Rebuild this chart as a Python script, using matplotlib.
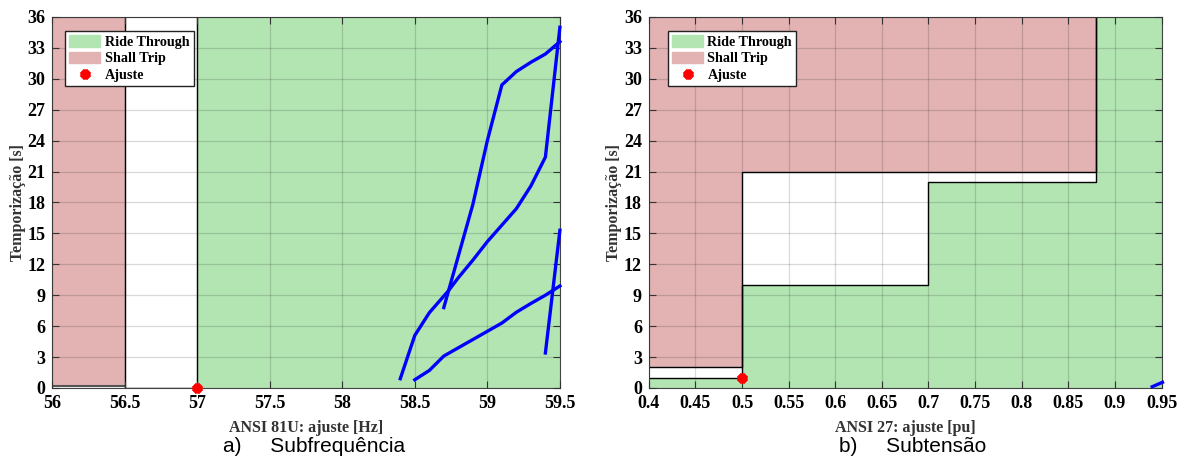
import matplotlib
matplotlib.use('Agg')
import matplotlib.pyplot as plt
import matplotlib.patches as mpatches
from matplotlib.lines import Line2D

# ---- data: (a) underfrequency ----
freq_ticks = [56, 56.5, 57, 57.5, 58, 58.5, 59, 59.5]
time_ticks = list(range(0, 37, 3))

freq_trip_x = [56.0, 56.5]          # shall trip band
freq_trip_y = [0.15, 36]
freq_free_x = [56.5, 57.0]          # white band
freq_ride_x = [57.0, 59.5]          # ride through band
freq_ajuste = (57.0, 0.0)

curve1_x = [58.4, 58.5, 58.6, 58.73, 58.8, 58.9, 59.0, 59.2, 59.3, 59.4, 59.5]
curve1_y = [0.9, 5.1, 7.3, 9.4, 10.7, 12.4, 14.2, 17.4, 19.6, 22.4, 35.0]
curve2_x = [58.7, 58.8, 58.9, 59.0, 59.1, 59.2, 59.3, 59.4, 59.5]
curve2_y = [7.8, 12.8, 17.8, 24.0, 29.4, 30.7, 31.6, 32.4, 33.6]
curve3_x = [58.5, 58.6, 58.7, 58.8, 58.9, 59.0, 59.1, 59.2, 59.3, 59.4, 59.5]
curve3_y = [0.8, 1.7, 3.1, 3.9, 4.7, 5.5, 6.3, 7.35, 8.2, 9.0, 9.9]
curve4_x = [59.4, 59.5]
curve4_y = [3.4, 15.3]

# ---- data: (b) undervoltage ----
volt_ticks = [0.4, 0.45, 0.5, 0.55, 0.6, 0.65, 0.7, 0.75, 0.8, 0.85, 0.9, 0.95]
trip_edge_x = [0.4, 0.5, 0.5, 0.88, 0.88]
trip_edge_y = [2, 2, 21, 21, 36]
ride_edge_x = [0.4, 0.5, 0.5, 0.7, 0.7, 0.88, 0.88, 0.95]
ride_edge_y = [1, 1, 10, 10, 20, 20, 36, 36]
volt_ajuste = (0.5, 1.0)
volt_curve_x = [0.94, 0.951]
volt_curve_y = [0.12, 0.55]

GREEN = '#b3e5b3'
RED = '#e3b3b3'
SERIF = 'Liberation Serif'

fig = plt.figure(figsize=(11.84, 4.57), dpi=100)
ax1 = fig.add_axes([0.0439, 0.151, 0.429, 0.812])
ax2 = fig.add_axes([0.548, 0.151, 0.433, 0.812])


def style_axes(ax, xticks, xlabel, caption, leg_x):
    ax.set_yticks(time_ticks)
    ax.set_xticks(xticks)
    ax.set_xticklabels([f'{t:g}' for t in xticks])
    ax.set_ylim(0, 36)
    ax.set_xlim(xticks[0], xticks[-1])
    ax.grid(True, color='k', alpha=0.15, lw=0.9)
    ax.set_axisbelow(False)
    ax.tick_params(direction='in', top=True, right=True, length=5,
                   width=0.8, labelsize=13, color='#333333', pad=5)
    for lab in ax.get_xticklabels() + ax.get_yticklabels():
        lab.set_fontfamily(SERIF)
        lab.set_fontweight('bold')
    for sp in ax.spines.values():
        sp.set_color('#444444')
    ax.set_xlabel(xlabel, fontfamily=SERIF, fontweight='bold', fontsize=11.5,
                  color='#333333', labelpad=6)
    ax.set_ylabel('Temporização [s]', fontfamily=SERIF, fontweight='bold',
                  fontsize=11.5, color='#333333', labelpad=1)
    bb = ax.get_position()
    fig.text(bb.x0 + 0.515 * bb.width, 0.022, caption, ha='center',
             va='center', fontsize=15, fontfamily='Liberation Sans')
    handles = [mpatches.Patch(color=GREEN, label='Ride Through'),
               mpatches.Patch(color=RED, label='Shall Trip'),
               Line2D([], [], ls='none', marker=(8, 2, 0), color='red',
                      mew=3, ms=7, label='Ajuste')]
    leg = ax.legend(handles=handles, loc='upper left',
                    bbox_to_anchor=(leg_x, 0.962), fancybox=False,
                    framealpha=1, edgecolor='#222222', borderpad=0.3,
                    labelspacing=0.22, handlelength=2.2, handletextpad=0.3,
                    handleheight=0.85, borderaxespad=0,
                    prop={'family': SERIF, 'weight': 'bold', 'size': 10.2})
    leg.get_frame().set_linewidth(1.0)


# (a) underfrequency
ax1.fill_between(freq_trip_x, freq_trip_y[0], freq_trip_y[1], color=RED, lw=0)
ax1.fill_between(freq_ride_x, 0, 36, color=GREEN, lw=0)
ax1.plot(freq_trip_x, [freq_trip_y[0]] * 2, color='#555555', lw=1.5)
ax1.plot([freq_free_x[0], freq_free_x[0], freq_free_x[1], freq_free_x[1]],
         [36, 0, 0, 36], color='k', lw=1.0)
for cx, cy in [(curve1_x, curve1_y), (curve2_x, curve2_y),
               (curve3_x, curve3_y), (curve4_x, curve4_y)]:
    ax1.plot(cx, cy, color='#0000ff', lw=2.4, clip_on=False, zorder=4)
ax1.plot(*freq_ajuste, ls='none', marker=(8, 2, 0), color='red', mew=3,
         ms=7, clip_on=False, zorder=5)
style_axes(ax1, freq_ticks, 'ANSI 81U: ajuste [Hz]', 'a)     Subfrequência',
           0.0256)

# (b) undervoltage
ax2.fill_between(trip_edge_x, trip_edge_y, 36, color=RED, lw=0)
ax2.fill_between(ride_edge_x, 0, ride_edge_y, color=GREEN, lw=0)
ax2.plot(trip_edge_x, trip_edge_y, color='k', lw=1.0)
ax2.plot(ride_edge_x[:-1], ride_edge_y[:-1], color='k', lw=1.0)
ax2.plot(volt_curve_x, volt_curve_y, color='#0000ff', lw=2.4, clip_on=False,
         zorder=4)
ax2.plot(*volt_ajuste, ls='none', marker=(8, 2, 0), color='red', mew=3,
         ms=7, clip_on=False, zorder=5)
style_axes(ax2, volt_ticks, 'ANSI 27: ajuste [pu]', 'b)     Subtensão', 0.037)

fig.savefig('out.png', dpi=100)
